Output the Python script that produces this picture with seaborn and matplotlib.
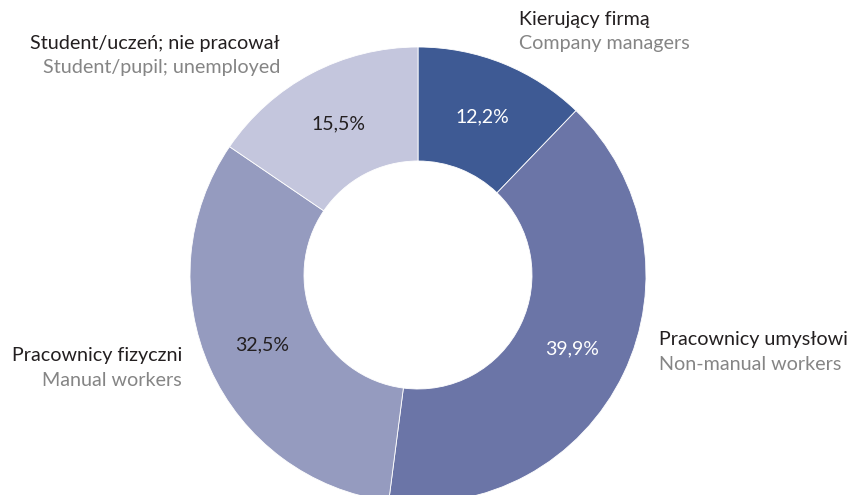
import matplotlib.pyplot as plt
import seaborn as sns

categories_pl = ['Kierujący firmą', 'Pracownicy umysłowi', 'Pracownicy fizyczni', 'Student/uczeń; nie pracował']
categories_en = ['Company managers', 'Non-manual workers', 'Manual workers', 'Student/pupil; unemployed']
shares = [12.2, 39.9, 32.5, 15.5]
colors = ['#3e5a94', '#6b75a7', '#959bbf', '#c4c6dd']
pct_colors = ['white', 'white', '#231f20', '#231f20']

sns.set_theme(style='white')
plt.rcParams['font.family'] = ['Lato', 'DejaVu Sans']

fig = plt.figure(figsize=(8.51, 4.95), dpi=100)
ax = fig.add_axes([0, 0, 1, 1])

wedges, texts, autotexts = ax.pie(
    shares, colors=colors, startangle=90, counterclock=False,
    center=(418, 220), radius=228, pctdistance=0.75,
    autopct=lambda p: f'{p:.1f}%'.replace('.', ','),
    wedgeprops=dict(width=114, linewidth=0.6, edgecolor='white'),
    textprops=dict(fontsize=14),
)
for t, c in zip(autotexts, pct_colors):
    t.set_color(c)

ax.set_xlim(0, 851)
ax.set_ylim(0, 495)
ax.set_aspect('equal')
ax.axis('off')

# outer labels: (x, y of first line, alignment)
label_pos = [(519, 475, 'left'), (659, 155, 'left'), (182, 139, 'right'), (280, 451, 'right')]
for (x, y, ha), pl, en in zip(label_pos, categories_pl, categories_en):
    ax.text(x, y, pl, ha=ha, va='center', fontsize=14.2, color='#231f20')
    ax.text(x, y - 24, en, ha=ha, va='center', fontsize=14.2, color='#858585')

plt.savefig('out.png', dpi=100)
